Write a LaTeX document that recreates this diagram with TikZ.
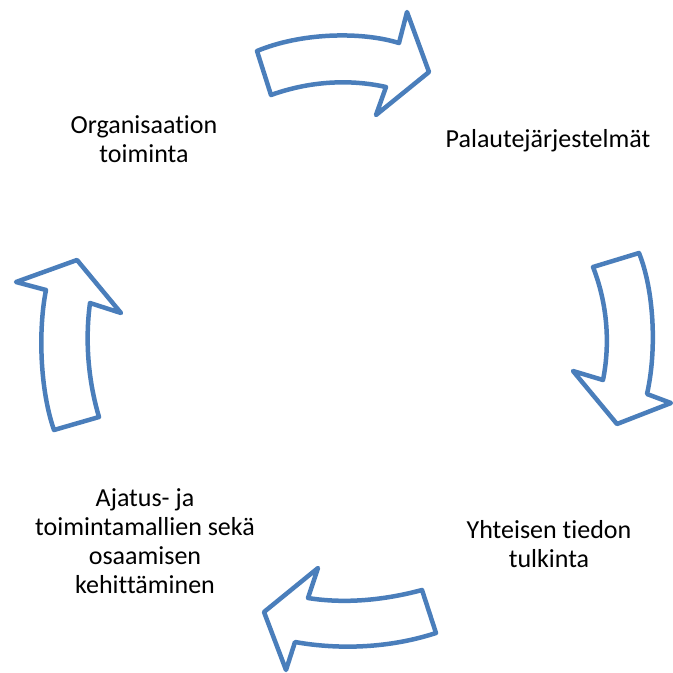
\documentclass[tikz,border=0pt]{standalone}
\usepackage{fontspec}
\setmainfont{Carlito}[Ligatures={NoCommon,NoContextual}]
\definecolor{cycleblue}{RGB}{74,126,187}
\begin{document}
\begin{tikzpicture}[x=1pt,y=-1pt,
  cyclearrow/.style={draw=cycleblue,line width=4.5pt,line join=round,fill=white},
  label/.style={align=center,anchor=base,inner sep=0pt,font=\fontsize{26}{29}\selectfont}]
\useasboundingbox (0,0) rectangle (673,673);

% curved block arrows of the cycle
\draw[cyclearrow] (257,51) .. controls (300,33) and (360,31) .. (399,43)
  -- (407,12) -- (429,72) -- (376,115) -- (386,87)
  .. controls (350,79) and (310,81) .. (271,95) -- cycle;
\draw[cyclearrow] (593,267) -- (639,253) .. controls (654,290) and (657,350) .. (647,394)
  -- (671,403) -- (617,424) -- (573,371) -- (603,380)
  .. controls (611,340) and (606,300) .. (593,267) -- cycle;
\draw[cyclearrow] (422,590) .. controls (385,600) and (345,604) .. (308,598)
  -- (318,568) -- (264,612) -- (286,670) -- (295,642)
  .. controls (340,650) and (390,648) .. (436,633) -- cycle;
\draw[cyclearrow] (54,430) -- (99,417) .. controls (88,380) and (85,340) .. (90,303)
  -- (121,313) -- (77,260) -- (16,282) -- (46,290)
  .. controls (38,330) and (40,390) .. (54,430) -- cycle;

% stage labels (anchored at the baseline of their last line)
\node[label] (org) at (144,162) {Organisaation\\toiminta};
\node[label] (pal) at (548,147.5) {Palautejärjestelmät};
\node[label] (yht) at (549,567) {Yhteisen tiedon\\tulkinta};
\node[label] (aja) at (145,593) {Ajatus- ja\\toimintamallien sekä\\osaamisen\\kehittäminen};
\end{tikzpicture}
\end{document}
